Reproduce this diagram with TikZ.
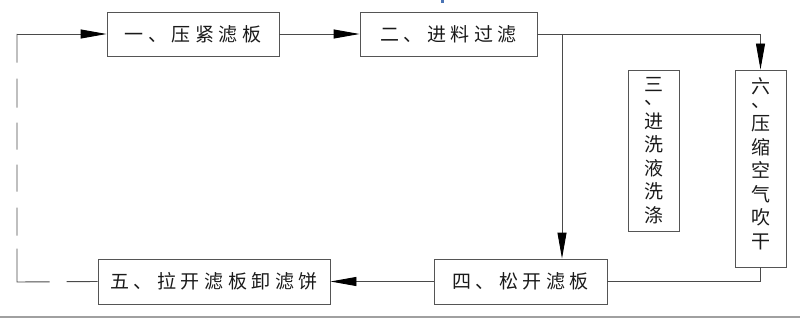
\documentclass[tikz,border=0pt]{standalone}
\usepackage{fontspec}
\newfontfamily\cjkh[LetterSpace=24]{Noto Sans CJK SC}
\newfontfamily\cjkv{Noto Sans CJK SC}
\usetikzlibrary{arrows.meta}
\definecolor{boxgray}{HTML}{555555}
\definecolor{linegray}{HTML}{4A4A4A}
\definecolor{txt}{HTML}{1A1A1A}
\definecolor{rulegray}{HTML}{A0A0A0}
\definecolor{markblue}{HTML}{4A74B5}
\begin{document}
\begin{tikzpicture}[x=1pt,y=-1pt,
  box/.style={draw=boxgray, line width=0.9pt, inner sep=0pt, text=txt},
  hbox/.style={box, minimum height=44pt, font=\fontsize{19pt}{23.5pt}\selectfont\cjkh},
  vbox/.style={box, minimum width=51pt, align=center, font=\fontsize{19pt}{23.5pt}\selectfont\cjkv},
  conn/.style={draw=linegray, line width=0.9pt},
  arr/.style={-{Triangle[length=26pt,width=9pt,color=black]}},
  dashconn/.style={conn, dash pattern=on 31pt off 17pt on 66pt off 13pt on 28pt off 16pt on 27pt off 15pt on 27pt off 15pt on 29pt off 16pt on 40pt off 5pt}
]
\useasboundingbox (0,0) rectangle (800,318);
\fill[markblue] (441,0) rectangle (444,3);
\draw[rulegray, line width=1.5pt] (0,317) -- (800,317);

\node[hbox, minimum width=172pt] (b1) at (193,34) {一、压紧滤板};
\node[hbox, minimum width=177pt] (b2) at (448.5,34) {二、进料过滤};
\node[vbox, minimum height=161pt] (b3) at (653.5,150.5) {三\\[-10pt]、\\进\\洗\\液\\洗\\涤};
\node[vbox, minimum height=197pt] (b6) at (760.5,168.5) {六\\[-10pt]、\\压\\缩\\空\\气\\吹\\干\\[-13pt]\mbox{}};
\node[hbox, minimum width=173pt, minimum height=45pt] (b4) at (520.5,281.5) {四、松开滤板};
\node[hbox, minimum width=232pt, minimum height=45pt] (b5) at (214,281.5) {五、拉开滤板卸滤饼};

\coordinate (br) at (562,34);
\coordinate (lb) at (17,282);
\coordinate (lt) at (17,34);

\draw[conn, arr] (b1) -- (b2);
\draw[conn, arr] (b2.east) -- (b2.east -| b6.north) -- (b6.north);
\draw[conn, arr] (br) -- (br |- b4.north);
\draw[conn] (b6.south) -- (b6.south |- b4.east) -- (b4.east);
\draw[conn, arr] (b4) -- (b5);
\draw[dashconn] (b5.west) -- (lb) -- (lt);
\draw[conn, arr] (lt) -- (b1.west);
\end{tikzpicture}
\end{document}
